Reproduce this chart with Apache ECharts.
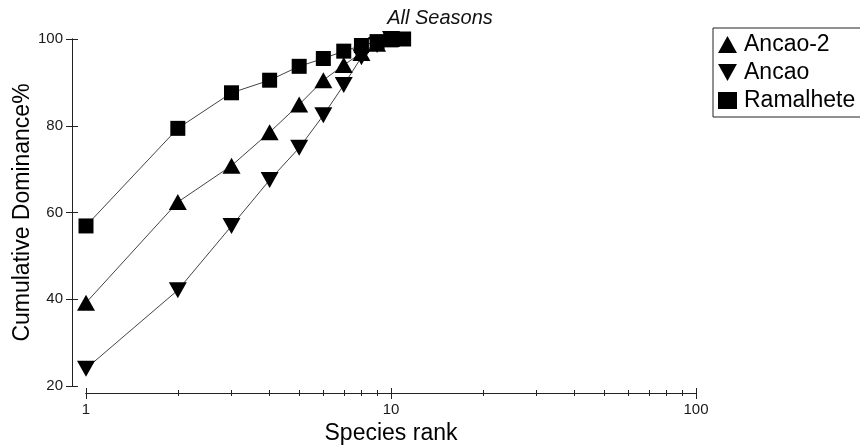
<!DOCTYPE html>
<html>
<head>
<meta charset="utf-8">
<script src="https://cdn.jsdelivr.net/npm/echarts@6/dist/echarts.min.js"></script>
<style>
  html, body { margin: 0; padding: 0; background: #fff; }
  #chart { width: 860px; height: 446px; }
</style>
</head>
<body>
<div id="chart"></div>
<script>
// Cumulative dominance (%) against species rank, one list per site
const ancao2 = [39.2, 62.4, 70.8, 78.5, 84.9, 90.5, 94.0, 96.8, 98.9, 100];
const ancao = [24.0, 42.1, 56.9, 67.5, 74.9, 82.4, 89.4, 95.8, 98.6, 100];
const ramalhete = [56.9, 79.4, 87.6, 90.5, 93.7, 95.5, 97.2, 98.5, 99.4, 99.8, 100];
const seriesNames = ['Ancao-2', 'Ancao', 'Ramalhete'];
const yTicks = [20, 40, 60, 80, 100];

const FONT = '"Liberation Sans", Arial, sans-serif';
const downTriangle = 'path://M0,0 L20,0 L10,18 Z';

function ranked(values) {
  return values.map((v, i) => [i + 1, v]);
}

const chart = echarts.init(document.getElementById('chart'), null, { renderer: 'canvas' });

const xCommon = {
  type: 'log',
  logBase: 10,
  min: 1,
  max: 100,
  position: 'bottom',
  offset: 7,
  splitLine: { show: false },
  axisLine: { show: true, onZero: false, lineStyle: { color: '#222', width: 1 } }
};
const yCommon = {
  type: 'value',
  min: yTicks[0],
  max: yTicks[yTicks.length - 1],
  interval: 20,
  position: 'left',
  offset: 14,
  splitLine: { show: false },
  axisLine: { show: true, onZero: false, lineStyle: { color: '#222', width: 1 } }
};

const lineStyle = { color: '#444', width: 1 };

chart.setOption({
  animation: false,
  backgroundColor: '#fff',
  title: {
    text: 'All Seasons',
    left: 435,
    top: 3,
    textAlign: 'center',
    textStyle: { fontFamily: FONT, fontSize: 20, fontStyle: 'italic', fontWeight: 'normal', color: '#111' }
  },
  legend: {
    orient: 'vertical',
    left: 713,
    top: 28,
    padding: [5, 40, 5, 5],
    itemGap: 5,
    itemWidth: 19,
    itemHeight: 17,
    borderColor: '#222',
    borderWidth: 1,
    borderRadius: 0,
    textStyle: { fontFamily: FONT, fontSize: 23, color: '#000', lineHeight: 23, padding: [0, 0, 0, 2] },
    data: [
      { name: seriesNames[0], icon: 'triangle' },
      { name: seriesNames[1], icon: downTriangle },
      { name: seriesNames[2], icon: 'rect' }
    ]
  },
  grid: { left: 86, right: 164, top: 39, bottom: 60, containLabel: false, outerBoundsMode: 'none' },
  xAxis: [
    Object.assign({}, xCommon, {
      name: 'Species rank',
      nameLocation: 'middle',
      nameGap: 23,
      nameTextStyle: { fontFamily: FONT, fontSize: 23, color: '#000' },
      axisTick: { show: true, inside: false, length: 6, lineStyle: { color: '#222' } },
      minorTick: { show: true, splitNumber: 9, length: 3, lineStyle: { color: '#222' } },
      axisLabel: { show: true, margin: 9, fontFamily: FONT, fontSize: 15, color: '#1a1a1a' }
    }),
    Object.assign({}, xCommon, {
      axisTick: { show: true, inside: true, length: 5, lineStyle: { color: '#222' } },
      minorTick: { show: true, splitNumber: 9, length: 3, lineStyle: { color: '#222' } },
      axisLabel: { show: false }
    })
  ],
  yAxis: [
    Object.assign({}, yCommon, {
      name: 'Cumulative Dominance%',
      nameLocation: 'middle',
      nameGap: 38,
      nameMoveOverlap: false,
      nameTextStyle: { fontFamily: FONT, fontSize: 23, color: '#000' },
      axisTick: { show: true, inside: false, length: 6, lineStyle: { color: '#222' } },
      axisLabel: { show: true, margin: 9, fontFamily: FONT, fontSize: 15, color: '#1a1a1a' }
    }),
    Object.assign({}, yCommon, {
      axisTick: { show: true, inside: true, length: 6, lineStyle: { color: '#222' } },
      axisLabel: { show: false }
    })
  ],
  series: [
    {
      name: seriesNames[0],
      type: 'line',
      data: ranked(ancao2),
      symbol: 'triangle',
      symbolSize: [18, 16],
      itemStyle: { color: '#000' },
      lineStyle: lineStyle,
      clip: false,
      z: 3
    },
    {
      name: seriesNames[1],
      type: 'line',
      data: ranked(ancao),
      symbol: downTriangle,
      symbolSize: [18, 16],
      itemStyle: { color: '#000' },
      lineStyle: lineStyle,
      clip: false,
      z: 3
    },
    {
      name: seriesNames[2],
      type: 'line',
      data: ranked(ramalhete),
      symbol: 'rect',
      symbolSize: 15,
      itemStyle: { color: '#000' },
      lineStyle: lineStyle,
      clip: false,
      z: 4
    }
  ]
});
</script>
</body>
</html>
